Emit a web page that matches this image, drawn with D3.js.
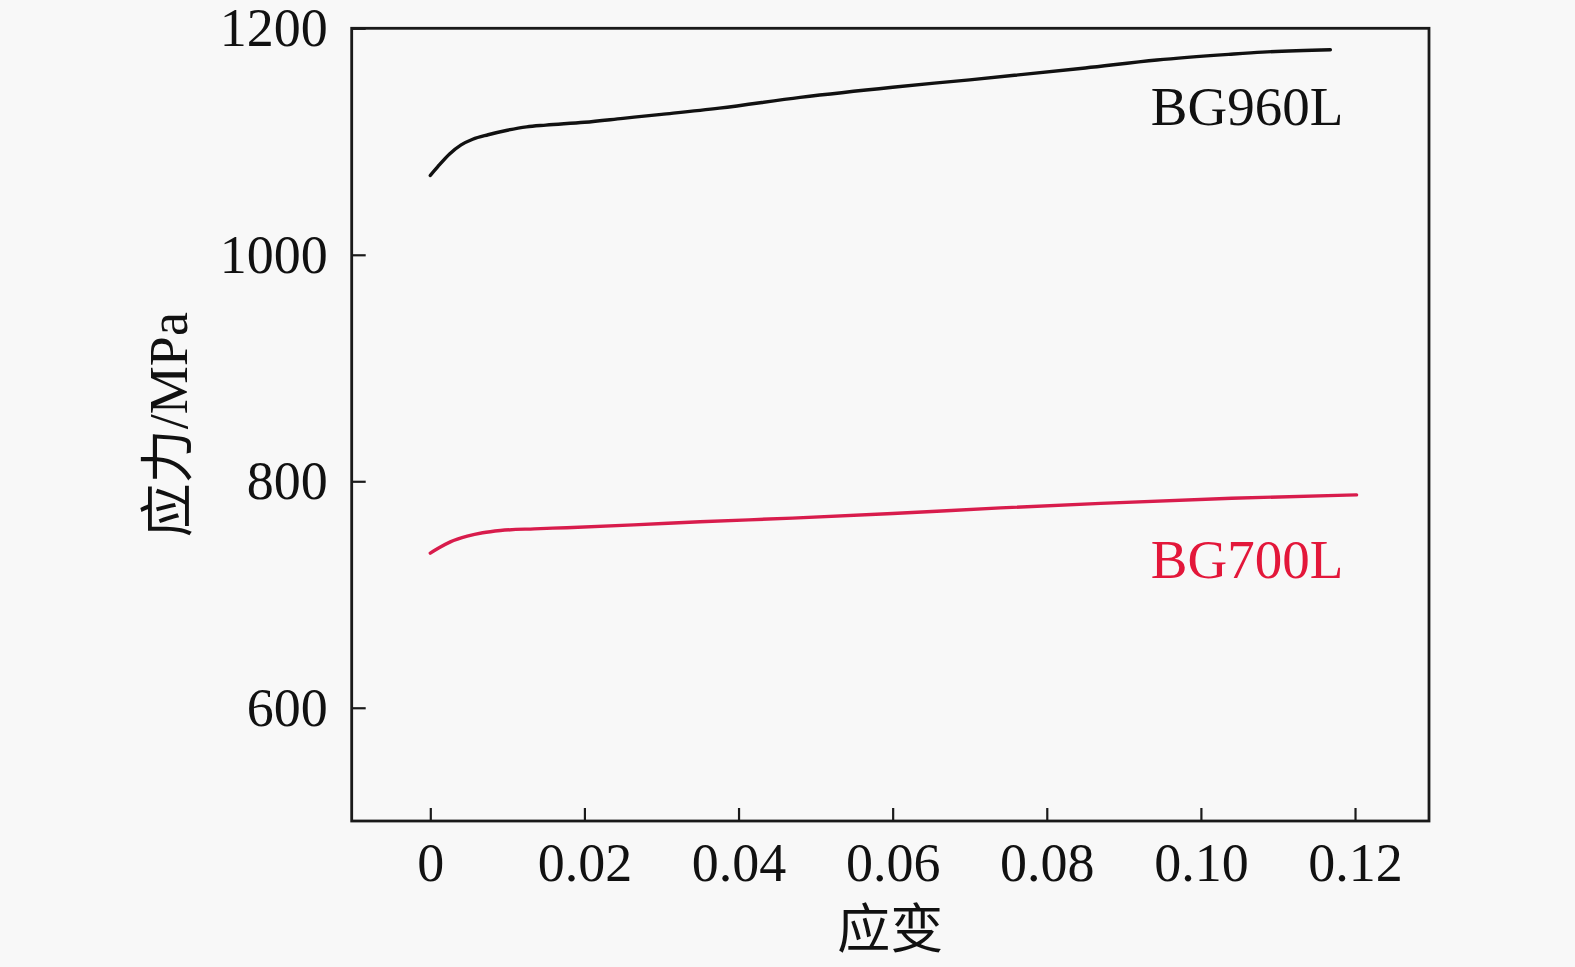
<!DOCTYPE html>
<html>
<head>
<meta charset="utf-8">
<script src="https://cdn.jsdelivr.net/npm/d3@7"></script>
<style>
  html, body { margin: 0; padding: 0; background: #f8f8f8; }
  svg { display: block; }
  text { font-family: "Liberation Serif", "Times New Roman", "Noto Sans CJK SC", serif; }
</style>
</head>
<body>
<svg id="chart" width="1575" height="967"></svg>
<script>
// ---- data ----
const xTicks = [0, 0.02, 0.04, 0.06, 0.08, 0.10, 0.12];
const xTickLabels = ["0", "0.02", "0.04", "0.06", "0.08", "0.10", "0.12"];
const yTicks = [600, 800, 1000, 1200];
const yTickLabels = ["600", "800", "1000", "1200"];

const bg960Strain = [0, 0.001, 0.0025, 0.004, 0.0055, 0.0075, 0.01, 0.0125, 0.015, 0.02, 0.025, 0.03, 0.0375, 0.048, 0.06, 0.07, 0.0758, 0.085, 0.0943, 0.1036, 0.108, 0.1168];
const bg960Stress = [1070, 1078, 1089, 1097, 1102, 1106, 1110, 1113, 1114.5, 1117, 1120.5, 1124, 1129.5, 1139, 1148, 1154.5, 1158.5, 1165, 1172, 1177, 1179, 1181];

const bg700Strain = [0, 0.0012, 0.0026, 0.0048, 0.0068, 0.0091, 0.0135, 0.0177, 0.0264, 0.035, 0.047, 0.06, 0.074, 0.087, 0.104, 0.1202];
const bg700Stress = [736.5, 741.5, 746.5, 751.5, 754.5, 756.5, 758, 759, 761.5, 764.2, 767.5, 771.5, 776.5, 780.5, 785, 788];

const seriesNames = ["BG960L", "BG700L"];
const xTitle = "应变";
const yTitle = "应力/MPa";

// ---- layout ----
const svg = d3.select("#chart");
const pLeft = 351.7, pRight = 1429, pTop = 28.3, pBottom = 821;
const x = d3.scaleLinear().domain([-0.0102, 0.1296]).range([pLeft, pRight]);
const y = d3.scaleLinear().domain([500, 1200]).range([pBottom, pTop]);

svg.append("rect").attr("width", 1575).attr("height", 967).attr("fill", "#f8f8f8");

const fontSize = 54;
const serif = '"Liberation Serif", "Times New Roman", serif';

// x axis
const gx = svg.append("g").attr("transform", `translate(0,${pBottom})`)
  .call(d3.axisBottom(x).tickValues(xTicks).tickFormat((d, i) => xTickLabels[i])
    .tickSizeInner(-13).tickSizeOuter(0).tickPadding(22));
gx.select(".domain").remove();
gx.selectAll(".tick line").attr("stroke", "#1a1a1a").attr("stroke-width", 2.2);
gx.selectAll(".tick text").attr("font-size", fontSize).attr("fill", "#111")
  .attr("font-family", serif);

// y axis
const gy = svg.append("g").attr("transform", `translate(${pLeft},0)`)
  .call(d3.axisLeft(y).tickValues(yTicks).tickFormat((d, i) => yTickLabels[i])
    .tickSizeInner(-14).tickSizeOuter(0).tickPadding(24));
gy.select(".domain").remove();
gy.selectAll(".tick line").attr("stroke", "#1a1a1a").attr("stroke-width", 2.2);
gy.selectAll(".tick text").attr("font-size", fontSize).attr("fill", "#111")
  .attr("font-family", serif).attr("dy", "0.32em");

// frame
svg.append("rect").attr("x", pLeft).attr("y", pTop)
  .attr("width", pRight - pLeft).attr("height", pBottom - pTop)
  .attr("fill", "none").attr("stroke", "#1a1a1a").attr("stroke-width", 2.8);

// curves
const line = d3.line().x(d => x(d[0])).y(d => y(d[1])).curve(d3.curveMonotoneX);
const d960 = bg960Strain.map((s, i) => [s, bg960Stress[i]]);
const d700 = bg700Strain.map((s, i) => [s, bg700Stress[i]]);

svg.append("path").datum(d960).attr("d", line)
  .attr("fill", "none").attr("stroke", "#111").attr("stroke-width", 3.4)
  .attr("stroke-linecap", "round");
svg.append("path").datum(d700).attr("d", line)
  .attr("fill", "none").attr("stroke", "#d81c4c").attr("stroke-width", 3.4)
  .attr("stroke-linecap", "round");

// series labels
svg.append("text").attr("x", x(0.1168) + 13).attr("y", 124.6).attr("text-anchor", "end")
  .attr("font-size", 55).attr("fill", "#111").attr("font-family", serif)
  .text(seriesNames[0]);
svg.append("text").attr("x", x(0.1168) + 13).attr("y", 578.3).attr("text-anchor", "end")
  .attr("font-size", 55).attr("fill", "#e3173a").attr("font-family", serif)
  .text(seriesNames[1]);

// axis titles
svg.append("text").attr("x", (pLeft + pRight) / 2).attr("y", 948).attr("text-anchor", "middle")
  .attr("font-size", 53).attr("fill", "#111")
  .attr("font-family", '"Noto Sans CJK SC", "Liberation Serif", serif')
  .text(xTitle);

svg.append("text")
  .attr("transform", `translate(187,${(pTop + pBottom) / 2}) rotate(-90)`)
  .attr("text-anchor", "middle")
  .attr("font-size", 54).attr("fill", "#111")
  .attr("font-family", '"Liberation Serif", "Noto Sans CJK SC", serif')
  .text(yTitle);
</script>
</body>
</html>
